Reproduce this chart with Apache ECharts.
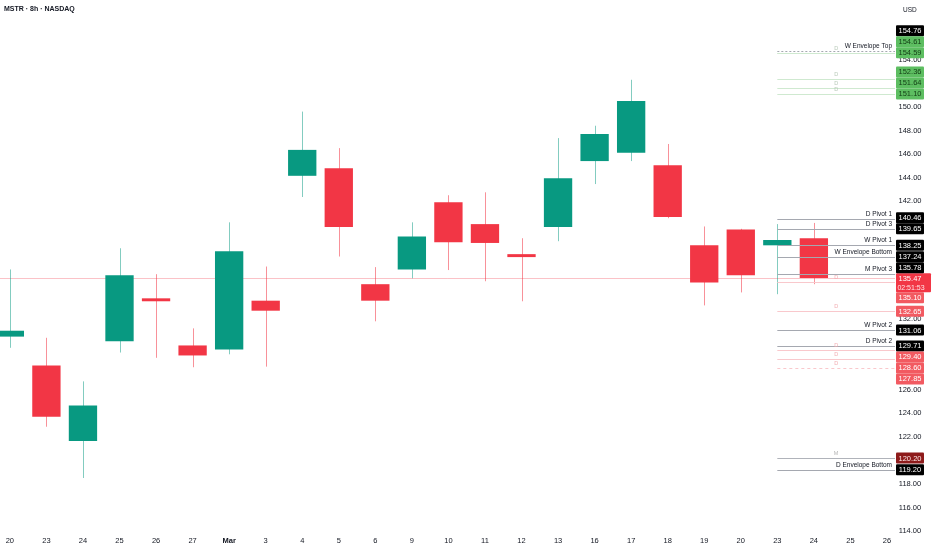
<!DOCTYPE html>
<html>
<head>
<meta charset="utf-8">
<script src="https://cdn.jsdelivr.net/npm/echarts@6.0.0/dist/echarts.min.js"></script>
<style>
html,body{margin:0;padding:0;background:#fff;}
#main{width:932px;height:550px;}
</style>
</head>
<body>
<div id="main"></div>
<script>
// ---------- DATA ----------
const categories = ['20','23','24','25','26','27','Mar','3','4','5','6','9','10','11','12','13','16','17','18','19','20','23','24','25','26'];
const opens  = [130.50, 128.05, 121.65, 130.10, 133.75, 129.75, 129.40, 133.55, 144.15, 144.80, 134.95, 136.20, 141.90, 140.05, 137.50, 139.80, 145.40, 146.10, 145.05, 138.25, 139.60, 138.25, 138.85];
const closes = [131.00, 123.70, 124.65, 135.70, 133.50, 128.90, 137.75, 132.70, 146.35, 139.80, 133.55, 139.00, 138.50, 138.45, 137.25, 143.95, 147.70, 150.50, 140.65, 135.10, 135.70, 138.70, 135.47];
const highs  = [136.20, 130.40, 126.70, 138.00, 135.80, 131.20, 140.20, 136.45, 149.60, 146.50, 136.40, 140.20, 142.50, 142.75, 138.85, 147.35, 148.40, 152.30, 146.85, 139.85, 139.65, 140.05, 140.15];
const lows   = [129.55, 122.85, 118.50, 129.15, 128.70, 127.90, 129.00, 127.95, 142.35, 137.30, 131.80, 135.45, 136.15, 135.20, 133.50, 138.60, 143.45, 145.40, 140.55, 133.15, 134.25, 134.10, 134.95];

const currentPrice = 135.47;
const countdown = '02:51:53';
const levelStartIndex = 21;

const levelValues = [154.76, 154.61, 154.59, 152.36, 151.64, 151.10, 140.46, 139.65, 138.25, 137.24, 135.78, 135.10, 132.65, 131.06, 129.71, 129.40, 128.60, 127.85, 120.20, 119.20];
const levelNames  = ['W Envelope Top', 'D', '', 'D', 'D', 'D', 'D Pivot 1', 'D Pivot 3', 'W Pivot 1', 'W Envelope Bottom', 'M Pivot 3', 'D', 'D', 'W Pivot 2', 'D Pivot 2', 'D', 'D', 'D', 'M', 'D Envelope Bottom'];
const levelKinds  = ['named', 'green', 'green', 'green', 'green', 'green', 'named', 'named', 'named', 'named', 'named', 'red', 'red', 'named', 'named', 'red', 'red', 'red', 'maroon', 'named'];

const xMin = -0.27, xMax = 24.22;
const yMin = 114, yMax = 156, yStep = 2;

// ---------- STYLE ----------
const FONT = '"Liberation Sans", Arial, sans-serif';
const UP = '#089981', DOWN = '#f23645';
const UP_WICK = 'rgba(8,153,129,0.5)', DOWN_WICK = 'rgba(242,54,69,0.55)';
const KIND = {
  named:  {line:'#a5a8b0', box:'#000000', text:'#ffffff', tag:'#131722'},
  green:  {line:'#cfe9d0', box:'#5dbe61', text:'#123d14', tag:'#b7c9b8'},
  red:    {line:'#f9c8cc', box:'#f25a61', text:'#ffffff', tag:'#f2adb2'},
  maroon: {line:'#b0b3ba', box:'#8e1b1b', text:'#ffe9e9', tag:'#b5b5b5'}
};
const DOTTED = {'154.76':[2,2], '127.85':[3,3]};
const BOX_H = 11, CUR_ROW = 9.5, BOX_W = 28, CUR_W = 35;

function boxLayout(toY) {
  const cy = toY(currentPrice);
  const curTop = cy - CUR_ROW / 2, curBottom = curTop + 2 * CUR_ROW;
  const pos = new Array(levelValues.length);
  const items = levelValues.map((v, i) => ({i, y: toY(v)}));
  let edge = curTop;
  items.filter(o => o.y < cy).sort((a, b) => b.y - a.y).forEach(o => {
    const c = Math.min(o.y, edge - BOX_H / 2); pos[o.i] = c; edge = c - BOX_H / 2;
  });
  edge = curBottom;
  items.filter(o => o.y >= cy).sort((a, b) => a.y - b.y).forEach(o => {
    const c = Math.max(o.y, edge + BOX_H / 2); pos[o.i] = c; edge = c + BOX_H / 2;
  });
  return {pos, cy};
}

const candleData = opens.map((o, i) => [i, o, closes[i], lows[i], highs[i]]);

function renderCandle(params, api) {
  const x = api.value(0);
  const o = api.value(1), c = api.value(2), l = api.value(3), h = api.value(4);
  const pO = api.coord([x, o]), pC = api.coord([x, c]);
  const pL = api.coord([x, l]), pH = api.coord([x, h]);
  const w = api.size([1, 0])[0] * 0.775;
  const up = c >= o;
  const xc = Math.round(pO[0]) + 0.5;
  const top = Math.min(pO[1], pC[1]), bot = Math.max(pO[1], pC[1]);
  return {
    type: 'group',
    children: [
      {type:'line', shape:{x1:xc, y1:pH[1], x2:xc, y2:pL[1]}, style:{stroke: up ? UP_WICK : DOWN_WICK, lineWidth:1}},
      {type:'rect', shape:{x: pO[0] - w / 2, y: top, width: w, height: Math.max(bot - top, 1)}, style:{fill: up ? UP : DOWN}}
    ]
  };
}

function renderLevel(params, api) {
  const i = api.value(0);
  const v = levelValues[i];
  const cs = params.coordSys;
  const st = KIND[levelKinds[i]];
  const y = Math.round(api.coord([0, v])[1]) + 0.5;
  const x0 = api.coord([levelStartIndex, v])[0];
  const x1 = cs.x + cs.width;
  const lay = boxLayout(val => api.coord([0, val])[1]);
  const by = lay.pos[i];
  const children = [
    {type:'line', shape:{x1:x0, y1:y, x2:x1, y2:y}, style:{stroke:st.line, lineWidth:1, lineDash: DOTTED[v.toFixed(2)] || null}}
  ];
  const name = levelNames[i];
  if (name) {
    if (levelKinds[i] === 'named') {
      children.push({type:'text', style:{text:name, x:x1 - 3, y:y - 1.5, align:'right', verticalAlign:'bottom', fill:st.tag, font:'6.5px ' + FONT}});
    } else {
      children.push({type:'text', style:{text:name, x:(x0 + x1) / 2, y:y - 2, align:'center', verticalAlign:'bottom', fill:st.tag, font:'5.5px ' + FONT}});
    }
  }
  children.push({type:'rect', shape:{x:x1 + 1, y:by - BOX_H / 2, width:BOX_W, height:BOX_H, r:1}, style:{fill:st.box}});
  children.push({type:'text', style:{text:v.toFixed(2), x:x1 + 1 + BOX_W / 2, y:by + 0.5, align:'center', verticalAlign:'middle', fill:st.text, font:'7.5px ' + FONT}});
  return {type:'group', children};
}

function renderPrice(params, api) {
  const v = api.value(1);
  const cs = params.coordSys;
  const y = Math.round(api.coord([0, v])[1]) + 0.5;
  const x1 = cs.x + cs.width;
  const lay = boxLayout(val => api.coord([0, val])[1]);
  const top = lay.cy - CUR_ROW / 2;
  return {
    type:'group',
    children: [
      {type:'line', shape:{x1:cs.x, y1:y, x2:x1, y2:y}, style:{stroke:'rgba(242,54,69,0.3)', lineWidth:1}},
      {type:'rect', shape:{x:x1 + 1, y:top, width:CUR_W, height:2 * CUR_ROW, r:1}, style:{fill:DOWN}},
      {type:'text', style:{text:v.toFixed(2), x:x1 + 1 + BOX_W / 2, y:lay.cy + 0.5, align:'center', verticalAlign:'middle', fill:'#ffffff', font:'7.5px ' + FONT}},
      {type:'text', style:{text:countdown, x:x1 + 1 + BOX_W / 2 + 1, y:lay.cy + CUR_ROW + 0.5, align:'center', verticalAlign:'middle', fill:'#ffe3e5', font:'7px ' + FONT}}
    ]
  };
}

const chart = echarts.init(document.getElementById('main'));
const option = {
  animation: false,
  backgroundColor: '#ffffff',
  textStyle: {fontFamily: FONT},
  title: {
    text: 'MSTR · 8h · NASDAQ', left: -1, top: 1,
    textStyle: {fontSize: 7, fontWeight: 'bold', color: '#131722', fontFamily: FONT}
  },
  graphic: [
    {type:'text', left: 903, top: 7, style:{text:'USD', fill:'#131722', font:'6.5px ' + FONT}}
  ],
  grid: {left: 0, right: 37, top: 36.2, bottom: 19},
  xAxis: {
    type: 'value', min: xMin, max: xMax,
    axisLine: {show: false}, axisTick: {show: false}, splitLine: {show: false},
    axisLabel: {
      customValues: categories.map((c, i) => i),
      color: '#131722', fontSize: 7.5, margin: 6, fontFamily: FONT,
      formatter: v => categories[v] === 'Mar' ? '{b|Mar}' : (categories[v] || ''),
      rich: {b: {fontWeight: 'bold', fontSize: 7.5, color: '#131722', fontFamily: FONT}}
    }
  },
  yAxis: {
    type: 'value', position: 'right', min: yMin, max: yMax, interval: yStep,
    axisLine: {show: false}, axisTick: {show: false}, splitLine: {show: false},
    axisLabel: {color: '#131722', fontSize: 7.5, margin: 15, align: 'center', fontFamily: FONT, formatter: v => v.toFixed(2)}
  },
  series: [
    {type:'custom', name:'price', z:1, renderItem: renderPrice, data: [[0, currentPrice]], encode:{x:0, y:1}, silent:true},
    {type:'custom', name:'MSTR', z:2, renderItem: renderCandle, data: candleData, encode:{x:0, y:[1,2,3,4]}},
    {type:'custom', name:'levels', z:3, renderItem: renderLevel, data: levelValues.map((v, i) => [i, v]), encode:{x:0, y:1}, silent:true}
  ]
};
chart.setOption(option);

// hide price-scale tick labels hidden behind label boxes
const toY = v => chart.convertToPixel({yAxisIndex: 0}, v);
const lay = boxLayout(toY);
const occupied = lay.pos.concat([lay.cy, lay.cy + CUR_ROW]);
chart.setOption({
  yAxis: {axisLabel: {formatter: v => occupied.some(p => Math.abs(toY(v) - p) < 6) ? '' : v.toFixed(2)}}
});
</script>
</body>
</html>
